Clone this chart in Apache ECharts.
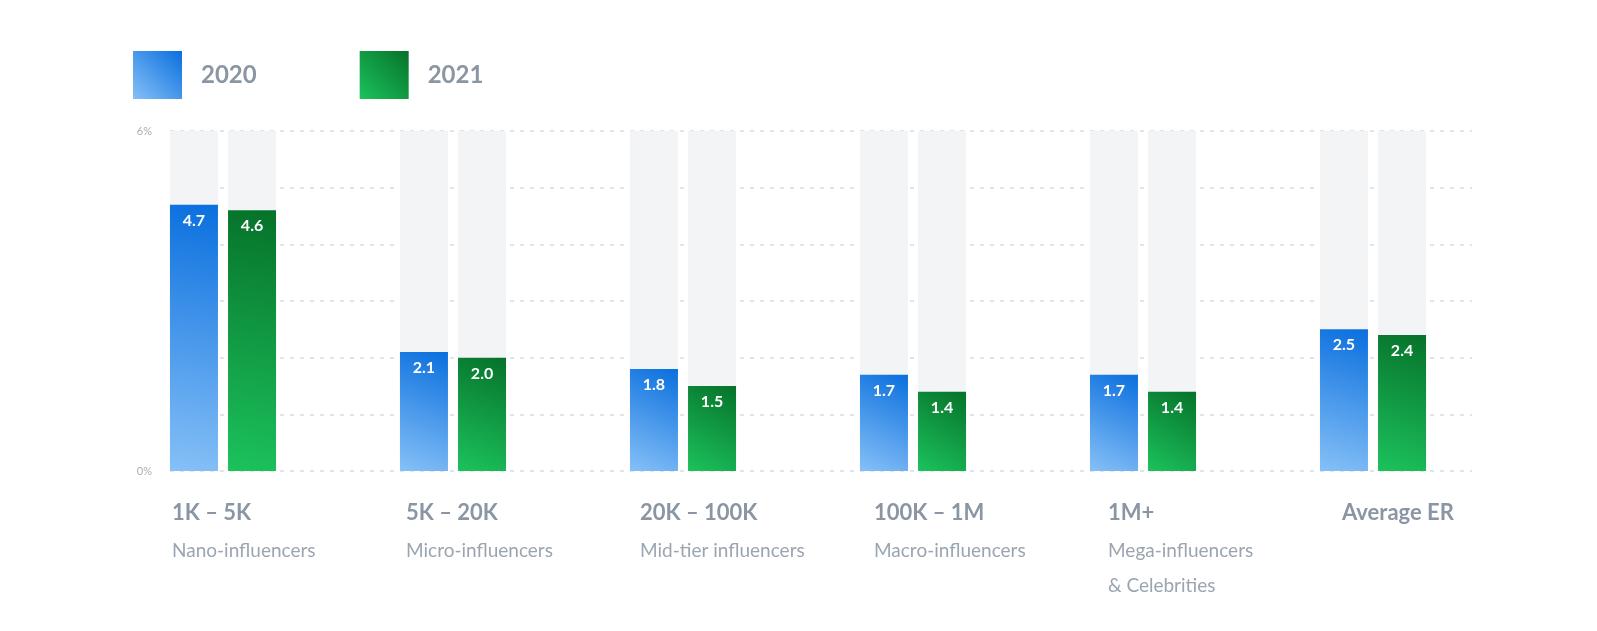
<!DOCTYPE html>
<html><head><meta charset="utf-8">
<script src="https://cdn.jsdelivr.net/npm/echarts@6/dist/echarts.min.js"></script>
<style>html,body{margin:0;padding:0;background:#fff}#c{width:1597px;height:631px}</style>
</head><body><div id="c"></div>
<script>
const categories = ['1K – 5K','5K – 20K','20K – 100K','100K – 1M','1M+','Average ER'];
const subtitles = ['Nano-influencers','Micro-influencers','Mid-tier influencers','Macro-influencers','Mega-influencers\n& Celebrities',''];
const values2020 = [4.7,2.1,1.8,1.7,1.7,2.5];
const values2021 = [4.6,2.0,1.5,1.4,1.4,2.4];
const yTicks = {0:'0%',6:'6%'};

const blue = new echarts.graphic.LinearGradient(0,1,1,0,[{offset:0,color:'#86c0f7'},{offset:1,color:'#0a6fde'}]);
const green = new echarts.graphic.LinearGradient(0,1,1,0,[{offset:0,color:'#1cc25c'},{offset:1,color:'#06722a'}]);
const lbl = {show:true,position:'insideTop',distance:8,color:'#fff',fontFamily:'Lato',fontWeight:'bold',fontSize:16,formatter:p=>p.value.toFixed(1)};
const chart = echarts.init(document.getElementById('c'));
chart.setOption({
  animation:false,
  legend:{left:128,top:46,itemWidth:49,itemHeight:48,itemGap:103,icon:'rect',
    textStyle:{color:'#8a96a3',fontFamily:'Lato',fontWeight:'bold',fontSize:24,padding:[0,0,0,14]},
    data:['2020','2021']},
  grid:[
    {left:170,right:125,top:131,bottom:160},
    {left:108,right:109,top:131,bottom:160},
    {left:55,right:138,top:131,bottom:160}
  ],
  xAxis:[
    {gridIndex:0,type:'value',show:false,min:0,max:1},
    {gridIndex:1,type:'category',data:categories,axisLine:{show:false},axisTick:{show:false},axisLabel:{show:false}},
    {gridIndex:2,type:'category',data:categories,axisLine:{show:false},axisTick:{show:false},
      axisLabel:{align:'left',margin:22,interval:0,
        formatter:(v,i)=>'{a|'+v+'}\n{b|'+subtitles[i].split('\n').join('}\n{b|')+'}',
        rich:{a:{color:'#8a96a3',fontFamily:'Lato',fontWeight:'bold',fontSize:22,lineHeight:40},
              b:{color:'#9aa5b0',fontFamily:'Lato',fontSize:19,lineHeight:35}}}}
  ],
  yAxis:[
    {gridIndex:0,type:'value',min:0,max:6,interval:1,axisLine:{show:false},axisTick:{show:false},
      splitLine:{lineStyle:{type:[4,6],color:'#d8dde3',width:1.5}},
      axisLabel:{margin:18,color:'#a6aeb6',fontFamily:'Lato',fontSize:11,formatter:v=>yTicks[v]||''}},
    {gridIndex:1,type:'value',min:0,max:6,show:false},
    {gridIndex:2,type:'value',min:0,max:6,show:false}
  ],
  series:[
    {name:'2020',type:'bar',xAxisIndex:1,yAxisIndex:1,data:values2020,barWidth:48,barGap:'21%',
      itemStyle:{color:blue},showBackground:true,backgroundStyle:{color:'#f2f4f6'},label:lbl},
    {name:'2021',type:'bar',xAxisIndex:1,yAxisIndex:1,data:values2021,barWidth:48,barGap:'21%',
      itemStyle:{color:green},showBackground:true,backgroundStyle:{color:'#f2f4f6'},label:lbl}
  ]
});
</script></body></html>
